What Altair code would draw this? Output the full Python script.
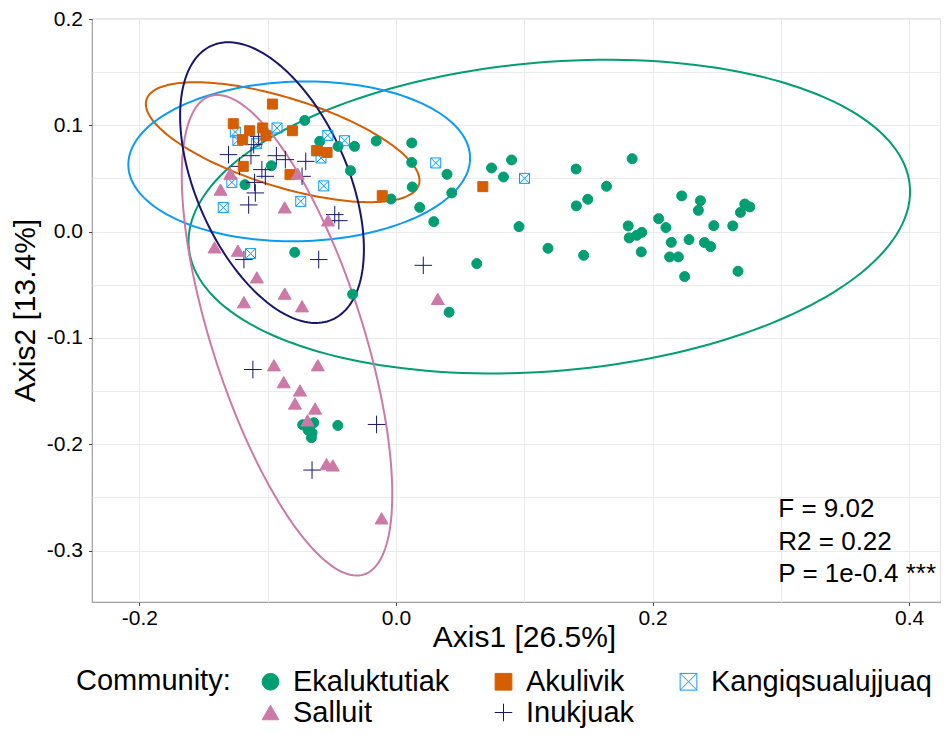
import altair as alt
import pandas as pd
import numpy as np

communities = ["Ekaluktutiak", "Akulivik", "Kangiqsualujjuaq", "Salluit", "Inukjuak"]
colors = ["#009E73", "#D55E00", "#0A9BF5", "#CC79A7", "#16166E"]

ek_x = [-0.0711, -0.0594, -0.0451, -0.0323, -0.0154, 0.0123, -0.0971, -0.0354, 0.0123, 0.0398,
        0.0435, 0.0127, -0.0039, 0.0185, 0.0295, 0.0745, 0.0838, 0.0901, -0.1177, -0.0789,
        0.0630, -0.0338, 0.0414, 0.0959, 0.1185, 0.1404, 0.1406, 0.1495, 0.1463, 0.1641,
        0.1841, 0.1810, 0.1818, 0.1877, 0.1916, 0.1912, 0.2047, 0.2104, 0.2146, 0.2133,
        0.2201, 0.2250, 0.2227, 0.2373, 0.2357, 0.2284, 0.2404, 0.2453, 0.2477, 0.2625,
        0.2666, 0.2685, 0.2719, 0.2758, -0.0727, -0.0641, -0.0685, -0.0654, -0.0659, -0.0453]
ek_y = [0.1046, 0.0849, 0.0802, 0.0802, 0.0852, 0.0834, 0.0620, 0.0573, 0.0651, 0.0539,
        0.0364, 0.0420, 0.0307, 0.0228, 0.0094, 0.0599, 0.0514, 0.0674, 0.0442, -0.0195,
        -0.0301, -0.0589, -0.0758, 0.0047, -0.0157, 0.0589, 0.0242, 0.0304, -0.0223, 0.0426,
        0.0686, 0.0054, -0.0059, -0.0035, -0.0007, -0.0191, 0.0122, 0.0038, -0.0101, -0.0238,
        -0.0238, -0.0423, 0.0336, 0.0291, 0.0200, -0.0075, -0.0103, -0.0141, 0.0056, 0.0054,
        -0.0373, 0.0181, 0.0260, 0.0232, -0.1817, -0.1798, -0.1867, -0.1892, -0.1939, -0.1823]

ak_x = [-0.0963, -0.1268, -0.1141, -0.1039, -0.1195, -0.1013, -0.0807, -0.0537, -0.0612,
        -0.1190, -0.0826, -0.0107, 0.0677]
ak_y = [0.1200, 0.1015, 0.0949, 0.0975, 0.0865, 0.0902, 0.0949, 0.0745, 0.0761,
        0.0614, 0.0536, 0.0338, 0.0423]

sa_x = [-0.1291, -0.0766, -0.1367, -0.0867, -0.0529, -0.1414, -0.1232, -0.1084, -0.0867,
        -0.0732, -0.1185, 0.0326, -0.0951, -0.0609, -0.0875, -0.0748, -0.0787, -0.0630,
        -0.0690, -0.0541, -0.0492, -0.0112]
sa_y = [0.0545, 0.0545, 0.0395, 0.0228, 0.0106, -0.0148, -0.0179, -0.0430, -0.0583,
        -0.0702, -0.0664, -0.0633, -0.1257, -0.1257, -0.1416, -0.1494, -0.1617, -0.1664,
        -0.1776, -0.2187, -0.2199, -0.2697]

in_x = [-0.1305, -0.1130, -0.0932, -0.0862, -0.0703, -0.1045, -0.1219, -0.1018, -0.1102,
        -0.1096, -0.1148, -0.0732, -0.0477, -0.0445, -0.1185, -0.0602, 0.0213, -0.1070,
        -0.1109, -0.1115, -0.0151, -0.0654]
in_y = [0.0724, 0.0714, 0.0714, 0.0677, 0.0661, 0.0583, 0.0614, 0.0520, 0.0463,
        0.0364, 0.0251, 0.0520, 0.0160, 0.0103, -0.0263, -0.0263, -0.0317, 0.0896,
        0.0818, -0.1297, -0.1814, -0.2243]

ka_x = [-0.1252, -0.1232, -0.0927, -0.1088, -0.0531, -0.0401, -0.0620, -0.0584, -0.1279,
        -0.1346, -0.0563, -0.0742, -0.1133, 0.0310, 0.1002]
ka_y = [0.0937, 0.0858, 0.0975, 0.0827, 0.0905, 0.0855, 0.0761, 0.0693, 0.0463,
        0.0226, 0.0430, 0.0285, -0.0207, 0.0646, 0.0501]

# ellipse: centre and two conjugate semi-axis vectors (data units)
ell_cx = {"Ekaluktutiak": 0.1195, "Akulivik": -0.0883, "Kangiqsualujjuaq": -0.0754,
          "Salluit": -0.0849, "Inukjuak": -0.0966}
ell_cy = {"Ekaluktutiak": 0.0141, "Akulivik": 0.0841, "Kangiqsualujjuaq": 0.0661,
          "Salluit": -0.0975, "Inukjuak": 0.0461}
ell_u = {"Ekaluktutiak": (0.2810, 0.0288), "Akulivik": (0.10614, -0.04002),
         "Kangiqsualujjuaq": (0.13316, 0.00397), "Salluit": (0.05990, -0.2250),
         "Inukjuak": (0.04682, -0.12893)}
ell_v = {"Ekaluktutiak": (-0.01025, 0.1447), "Akulivik": (0.01035, 0.03973),
         "Kangiqsualujjuaq": (-0.00155, 0.07507), "Salluit": (0.05605, 0.02148),
         "Inukjuak": (0.05420, 0.02848)}

ann_text = ["F = 9.02", "R2 = 0.22", "P = 1e-0.4 ***"]
ann_x = [0.298, 0.298, 0.298]
ann_y = [-0.2685, -0.2996, -0.3294]

x_domain = [-0.2369, 0.4248]
y_domain = [-0.3484, 0.2000]
x_vals = [-0.2, -0.1, 0.0, 0.1, 0.2, 0.3, 0.4]
y_vals = [-0.3, -0.25, -0.2, -0.15, -0.1, -0.05, 0.0, 0.05, 0.1, 0.15, 0.2]

# ---- build tables ----
groups = [("Ekaluktutiak", ek_x, ek_y), ("Kangiqsualujjuaq", ka_x, ka_y),
          ("Inukjuak", in_x, in_y), ("Akulivik", ak_x, ak_y), ("Salluit", sa_x, sa_y)]
rows = []
for name, xs, ys in groups:
    for a, b in zip(xs, ys):
        rows.append({"community": name, "x": a, "y": b})
pts_df = pd.DataFrame(rows)

t = np.linspace(0, 2 * np.pi, 181)
erows = []
for name in communities:
    ux, uy = ell_u[name]
    vx, vy = ell_v[name]
    for i, tt in enumerate(t):
        erows.append({"community": name, "i": i,
                      "x": ell_cx[name] + ux * np.cos(tt) + vx * np.sin(tt),
                      "y": ell_cy[name] + uy * np.cos(tt) + vy * np.sin(tt)})
ell_df = pd.DataFrame(erows)

ann_df = pd.DataFrame({"label": ann_text, "x": ann_x, "y": ann_y})

FONT = "Liberation Sans"

xscale = alt.Scale(domain=x_domain, nice=False, zero=False)
yscale = alt.Scale(domain=y_domain, nice=False, zero=False)

tick_x = {"condition": {"test": "round(datum.value*10) % 2 === 0", "value": "#4D4D4D"},
          "value": "transparent"}
tick_y = {"condition": {"test": "round(datum.value*20) % 2 === 0", "value": "#4D4D4D"},
          "value": "transparent"}

lab_x = ("round(datum.value*10) % 2 === 0 ? "
         "((datum.value < -0.001 ? '-' : '') + format(abs(datum.value), '.1f')) : ''")
lab_y = ("round(datum.value*20) % 2 === 0 ? "
         "((datum.value < -0.001 ? '-' : '') + format(abs(datum.value), '.1f')) : ''")

xaxis = alt.Axis(values=x_vals, title="Axis1 [26.5%]", labelExpr=lab_x,
                 tickColor=tick_x, tickSize=3.5, labelPadding=1.5, labelOverlap=False,
                 labelFlush=False, titleX=432, titleY=44, titleBaseline="alphabetic",
                 titleAlign="center")
yaxis = alt.Axis(values=y_vals, title="Axis2 [13.4%]", labelExpr=lab_y,
                 tickColor=tick_y, tickSize=3.5, labelPadding=6, labelOverlap=False,
                 labelFlush=False, titleAngle=270, titleX=-58, titleY=291,
                 titleBaseline="alphabetic", titleAlign="center")

# ellipse colours via a calculated field (no scale -> no extra legend)
col_expr = ""
for name, c in zip(communities, colors):
    col_expr += f"datum.community === '{name}' ? '{c}' : "
col_expr += "'black'"

ell = alt.Chart(ell_df).transform_calculate(col=col_expr).mark_line(strokeWidth=2).encode(
    x=alt.X("x:Q", scale=xscale, axis=xaxis),
    y=alt.Y("y:Q", scale=yscale, axis=yaxis),
    color=alt.Color("col:N", scale=None),
    detail="community:N",
    order="i:Q",
)

shapes = ["circle", "square", "M-1,-1L1,-1L1,1L-1,1ZM-1,-1L1,1M1,-1L-1,1",
          "triangle-up", "M-1.05,0L1.05,0M0,-1.05L0,1.05"]
fills = ["#009E73", "#D55E00", "transparent", "#CC79A7", "transparent"]

leg = alt.Legend(orient="none", legendX=-16, legendY=648, direction="horizontal",
                 columns=3, title="Community:", titleOrient="left", titleAnchor="start",
                 titleFontSize=29, titleFont=FONT, titleFontWeight="normal", titleColor="black",
                 titlePadding=25, labelFontSize=29, labelFont=FONT, labelColor="black",
                 labelLimit=400, symbolSize=280, symbolStrokeWidth=1, labelOffset=8,
                 columnPadding=39, rowPadding=1)

pts = alt.Chart(pts_df).transform_calculate(
    sz="datum.community === 'Inukjuak' ? 280 : (datum.community === 'Salluit' ? 170 : 100)"
).mark_point(strokeWidth=1, opacity=1).encode(
    x=alt.X("x:Q", scale=xscale),
    y=alt.Y("y:Q", scale=yscale),
    shape=alt.Shape("community:N", scale=alt.Scale(domain=communities, range=shapes), legend=leg),
    fill=alt.Fill("community:N", scale=alt.Scale(domain=communities, range=fills), legend=leg),
    stroke=alt.Stroke("community:N", scale=alt.Scale(domain=communities, range=colors), legend=leg),
    size=alt.Size("sz:Q", scale=None, legend=None),
)

txt = alt.Chart(ann_df).mark_text(align="left", baseline="alphabetic", fontSize=26,
                                   font=FONT, color="black").encode(
    x=alt.X("x:Q", scale=xscale),
    y=alt.Y("y:Q", scale=yscale),
    text="label:N",
)

chart = alt.layer(ell, pts, txt).properties(
    width=849, height=583,
    autosize=alt.AutoSizeParams(type="none"),
    padding={"left": 84, "top": 11, "right": 0, "bottom": 126},
).configure_view(
    stroke="#A0A0A0", strokeWidth=1.2
).configure_axis(
    grid=True, gridColor="#EBEBEB", gridWidth=1, domain=False,
    labelFont=FONT, labelFontSize=21, labelColor="black",
    titleFont=FONT, titleFontSize=30, titleFontWeight="normal", titleColor="black",
)

chart.save("out.html", embed_options={"renderer": "svg", "actions": False})
